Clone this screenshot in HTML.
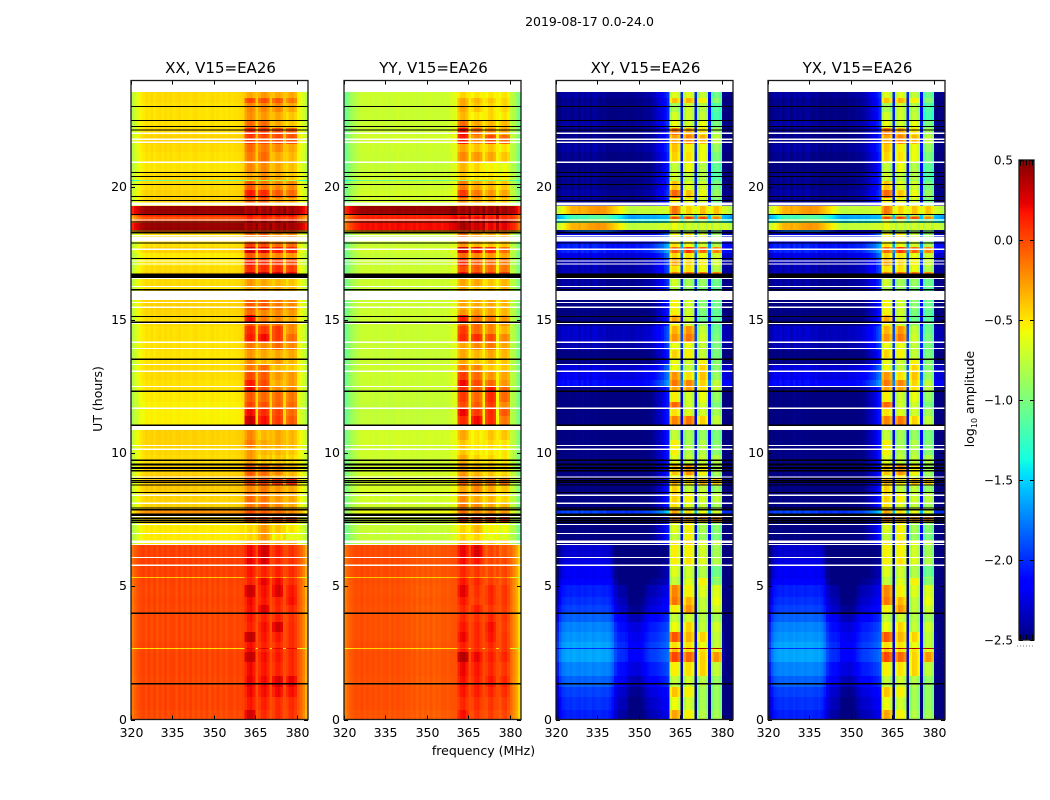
<!DOCTYPE html>
<html lang="en">
<head>
<meta charset="utf-8">
<title>2019-08-17 0.0-24.0 amplitude waterfall</title>
<style>
html,body{margin:0;padding:0;background:#fff}
svg{display:block}
text{font-family:"DejaVu Sans","Liberation Sans",sans-serif;fill:#000}
</style>
</head>
<body>
<svg id="figure" xmlns="http://www.w3.org/2000/svg" width="1050" height="800" viewBox="0 0 1050 800">
<rect x="0" y="0" width="1050" height="800" fill="#fff"/>
<text x="589.5" y="26" font-size="12.5" text-anchor="middle">2019-08-17 0.0-24.0</text>
<text x="0" y="0" font-size="12.5" text-anchor="middle" transform="translate(102,399) rotate(-90)">UT (hours)</text>
<text x="483.5" y="755" font-size="12.5" text-anchor="middle">frequency (MHz)</text>
<text x="0" y="0" font-size="12.5" text-anchor="middle" transform="translate(974,399) rotate(-90)">log<tspan font-size="8" dy="3">10</tspan><tspan dy="-3"> amplitude</tspan></text>
<g id="panels"></g>
<g id="colorbar"></g>
</svg>
<script>
/* ---------- chart data ---------- */
const polarizationTitles = ["XX, V15=EA26","YY, V15=EA26","XY, V15=EA26","YX, V15=EA26"];
const xTickMHz = [320,335,350,365,380];
const yTickHours = [0,5,10,15,20];
const colorbarTicks = [0.5,0,-0.5,-1,-1.5,-2,-2.5];
const colorbarTickLabels = ["0.5","0.0","\u22120.5","\u22121.0","\u22121.5","\u22122.0","\u22122.5"];

/* top hour of each time row (rows run down to hour 0) */
const rowTopHour = [23.57,23.34,23.15,22.82,22.48,22.21,21.95,21.62,21.31,20.94,20.56,20.26,20.23,19.89,19.59,19.40,
19.29,18.98,18.90,18.79,18.65,18.38,
18.28,17.90,17.75,17.52,17.33,17.03,16.80,16.58,16.24,15.76,15.38,15.19,14.93,14.78,14.48,14.18,13.88,13.58,13.31,13.05,12.75,12.49,12.30,11.92,11.70,11.40,11.06,
10.87,10.50,10.23,9.93,9.56,9.18,9.03,8.81,8.55,8.17,7.87,7.72,7.38,7.00,6.74,
6.59,6.10,5.80,5.35,5.31,5.05,4.60,4.30,4.00,3.66,3.28,2.91,2.68,2.65,2.53,2.16,1.63,1.22,0.85,0.36];
/* which spectrum each row uses: 0 quiet, 1 early hours, 2 bright interval */
const rowEra = [0,0,0,0,0,0,0,0,0,0,0,0,0,0,0,0,
2,2,2,2,2,2,
0,0,0,0,0,0,0,0,0,0,0,0,0,0,0,0,0,0,0,0,0,0,0,0,0,0,0,
0,0,0,0,0,0,0,0,0,0,0,0,0,0,0,
1,1,1,1,1,1,1,1,1,1,1,1,1,1,1,1,1,1,1,1];

/* channels: 1 MHz starting at 320 */
const channelMHz = [320,321,322,323,324,325,326,327,328,329,330,331,332,333,334,335,336,337,338,339,340,341,342,343,344,345,346,347,348,349,350,351,352,353,354,355,356,357,358,359,360,361,362,363,364,365,366,367,368,369,370,371,372,373,374,375,376,377,378,379,380,381,382,383];
/* first channel of each of the four interference-band stripes */
const stripeStartMHz = [361,366,371,376];

/* background level of each row, log10 amplitude */
const bgXX = [-.48,-.48,-.5,-.5,-.5,-.48,-.45,-.48,-.5,-.51,-.48,-1.1,-.48,-.45,-.45,-.48,
.42,.1,-.05,.05,.42,-.1,
-.48,-.5,-.45,-.53,-.51,-.48,-.45,-.48,-.51,-.45,-.46,-.48,-.48,-.5,-.5,-.5,-.51,-.5,-.48,-.48,-.5,-.5,-.53,-.55,-.55,-.55,-.48,
-.45,-.45,-.47,-.48,-.45,-.43,-.43,-.43,-.45,-.45,-.25,-.45,-.53,-.53,-.53,
.02,.02,.02,-.42,.01,0,.01,0,0,0,0,.01,-.5,0,.01,.01,0,.01,.01,-.01];
const bgYY = [-.72,-.72,-.73,-.73,-.73,-.72,-.7,-.72,-.73,-.74,-.72,-1.1,-.72,-.7,-.7,-.72,
.42,.1,.12,.1,.18,-.2,
-.72,-.73,-.7,-.74,-.73,-.72,-.7,-.72,-.74,-.72,-.72,-.72,-.72,-.73,-.73,-.73,-.74,-.73,-.72,-.72,-.73,-.73,-.74,-.75,-.75,-.75,-.72,
-.7,-.7,-.71,-.72,-.7,-.68,-.68,-.68,-.7,-.7,-.6,-.7,-.74,-.74,-.72,
-.04,-.04,-.04,-.45,-.05,-.06,-.05,-.06,-.06,-.06,-.06,-.05,-.5,-.06,-.05,-.05,-.06,-.05,-.05,-.07];
const bgXY = [-2.47,-2.52,-2.52,-2.52,-2.47,-2.52,-2.52,-2.47,-2.52,-2.57,-2.52,-2.52,-2.52,-2.47,-2.52,-2.52,
-.65,-1.5,-1.55,-1.3,-.65,-2.1,
-2.3,-2.1,-2.1,-2.3,-2.42,-2.42,-2.42,-2.47,-2.47,-2.57,-2.57,-2.57,-2.52,-2.37,-2.37,-2.42,-2.57,-2.57,-2.32,-2.27,-2.17,-2.52,-2.57,-2.57,-2.57,-2.57,-2.57,
-2.57,-2.57,-2.57,-2.57,-2.57,-2.57,-2.57,-2.57,-2.57,-2.57,-2.0,-2.52,-2.57,-2.57,-2.57,
-2.3,-2.25,-2.2,-2.25,-2.15,-2.05,-2.0,-1.95,-1.85,-1.75,-1.7,-1.65,-2.0,-1.65,-1.65,-1.75,-1.85,-1.95,-2.0,-2.05];
const bgYX = bgXY;

/* stripe levels per row: four interference stripes */
const rfiXX = [[-.3,-.25,-.3,-.3],[0,-.02,-.05,-.15],[-.2,-.2,-.2,-.3],[-.22,-.25,-.3,-.4],[-.1,-.1,-.3,-.4],[.1,.05,0,-.05],[.05,0,0,-.02],[-.1,-.15,-.2,-.3],[-.15,-.1,-.3,-.35],[-.2,-.2,-.3,-.38],[-.3,-.2,-.3,-.4],[-.8,-.8,-.8,-.8],[-.05,-.15,-.2,-.2],[.15,.1,-.05,-.1],[-.05,-.05,-.25,-.3],[-.1,-.1,-.3,-.35],
[.42,.42,.42,.42],[.2,.2,.2,.2],[.1,.1,.05,.05],[.2,.2,.2,.2],[.42,.42,.42,.42],[0,0,0,0],
[-.1,-.05,-.2,-.2],[.05,0,-.1,-.1],[.3,.25,.15,.1],[-.05,-.1,-.2,-.25],[.15,.1,.05,0],[.1,.1,.1,.05],[.3,.3,.25,.2],[-.25,-.3,-.35,-.4],[-.3,-.3,-.3,-.35],[-.05,-.05,-.15,-.2],[-.1,-.2,-.2,-.25],[.2,-.15,-.2,-.3],[-.05,-.1,-.1,-.2],[.1,.05,.05,-.2],[.15,.2,.05,-.1],[-.15,-.2,-.1,-.2],[-.25,-.3,-.3,-.3],[-.2,-.35,-.25,-.35],[-.15,-.1,-.35,-.4],[0,-.05,-.25,-.25],[.15,0,-.3,-.25],[.2,0,-.2,-.2],[-.05,-.1,-.1,-.15],[.02,-.02,-.08,-.1],[.2,.1,.02,-.1],[.32,.18,.05,-.05],[.1,.1,0,0],
[-.2,-.35,-.3,-.35],[-.15,-.3,-.3,-.35],[-.25,-.35,-.35,-.4],[-.25,-.4,-.4,-.45],[-.05,-.1,-.2,-.35],[-.1,-.15,-.3,-.35],[.05,.05,.08,.1],[-.2,-.15,-.25,-.3],[-.1,-.15,-.25,-.3],[-.15,-.1,-.2,-.3],[0,-.05,-.1,-.2],[.05,.05,.05,.05],[-.45,-.25,-.4,-.5],[-.45,-.25,-.5,-.6],[-.3,-.2,-.3,-.3],
[.2,.28,.13,.08],[.23,.26,.1,.08],[.16,.13,.13,.1],[.05,-.15,-.15,-.15],[.13,.23,.2,.1],[.3,.18,.26,.16],[.2,.16,.13,.18],[.18,.26,.11,.11],[.16,.13,.13,.08],[.13,.18,.28,.1],[.33,.16,.16,.1],[.18,.13,.11,.1],[.25,.25,.25,.25],[.2,.13,.13,.11],[.33,.18,.16,.11],[.2,.16,.13,.11],[.23,.2,.26,.23],[.2,.18,.2,.18],[.16,.13,.1,.1],[.28,.1,.1,.08]];
const rfiYY = [[-.45,-.5,-.5,-.5],[-.3,-.35,-.4,-.45],[-.3,-.4,-.45,-.45],[-.35,-.5,-.45,-.5],[-.1,-.3,-.35,-.35],[.2,-.1,-.2,-.3],[.15,-.2,0,-.1],[-.3,-.4,-.4,-.5],[-.2,-.25,-.3,-.4],[-.35,-.45,-.55,-.6],[-.4,-.5,-.5,-.55],[-1,-1,-1,-1],[-.15,-.3,-.35,-.4],[.05,-.15,-.25,-.3],[-.2,-.3,-.35,-.4],[-.25,-.35,-.4,-.45],
[.42,.42,.42,.42],[.1,.1,.1,.1],[.25,.2,.15,.1],[.2,.2,.2,.2],[.4,.3,.22,.25],[-.1,-.15,-.2,-.2],
[-.1,-.25,-.3,-.3],[-.25,-.35,-.4,-.4],[.3,.2,.1,-.1],[-.1,-.2,-.25,-.3],[.1,-.05,-.1,-.15],[0,-.05,-.1,-.15],[.2,.1,.05,.05],[-.3,-.3,-.4,-.35],[-.3,-.4,-.4,-.35],[-.3,-.3,-.3,-.35],[-.25,-.25,-.3,-.35],[.15,-.1,-.15,-.25],[-.1,-.1,-.2,-.25],[.05,-.1,-.2,-.35],[.1,.1,0,-.2],[-.3,-.2,-.15,-.3],[-.3,-.35,-.3,-.35],[-.3,-.4,-.35,-.4],[-.15,-.2,-.4,-.4],[.05,-.1,-.25,-.3],[.2,0,-.1,-.25],[.1,-.05,.15,-.1],[.05,-.1,.1,-.1],[0,-.05,.05,-.2],[.22,.05,.1,-.05],[.1,.2,.1,-.15],[.05,0,-.1,-.1],
[-.3,-.5,-.4,-.4],[-.4,-.5,-.45,-.5],[-.4,-.5,-.5,-.5],[-.3,-.45,-.45,-.5],[-.25,-.35,-.4,-.45],[-.2,-.3,-.4,-.4],[-.05,-.1,-.1,-.1],[-.3,-.2,-.3,-.4],[-.2,-.3,-.35,-.45],[-.15,-.2,-.3,-.35],[-.1,-.2,-.2,-.25],[.1,.1,.1,.1],[-.45,-.35,-.55,-.6],[-.45,-.45,-.6,-.65],[-.3,-.3,-.4,-.4],
[.21,.26,.01,-.04],[.18,.16,.01,.01],[.11,.06,.01,.01],[-.15,-.25,-.25,-.25],[.16,.11,.04,.01],[.24,.08,.11,.06],[.16,.06,.11,.06],[.11,.14,.06,.04],[.11,.08,.11,.06],[.16,.11,.18,.04],[.21,.11,.16,.06],[.14,.11,.11,.06],[.05,.05,.05,.05],[.16,.11,.09,.06],[.36,.21,.14,.11],[.21,.16,.11,.06],[.18,.14,.16,.11],[.16,.14,.11,.08],[.11,.09,.06,.04],[.18,.06,.04,.01]];
const rfiXY = [[-.65,-.65,-.75,-1.05],[-.4,-.35,-.55,-.95],[-.85,-.7,-.8,-1.15],[-.7,-.7,-.75,-1.2],[-.6,-.7,-.6,-1],[-.15,-.3,-.5,-.85],[-.3,-.2,-.35,-.75],[-.4,-.55,-.6,-.9],[-.45,-.5,-.6,-1],[-.75,-.6,-.8,-1.1],[-.7,-.75,-.8,-1.15],[-.8,-.8,-.9,-1.1],[-.4,-.65,-.7,-1],[-.1,-.4,-.6,-.9],[-.55,-.6,-.7,-1],[-.6,-.6,-.7,-1],
[-.15,-.45,-.4,-.4],[-.7,-.8,-.8,-.8],[0,.02,0,-.2],[-.7,-.8,-.9,-1],[-.6,-.7,-.7,-.7],[-.8,-.9,-.9,-1],
[-.55,-.5,-.7,-.9],[-.5,-.6,-.7,-.8],[-.1,.05,-.1,-.2],[-.45,-.5,-.6,-.7],[-.3,-.45,-.55,-.7],[-.5,-.5,-.6,-.8],[-.2,-.1,-.15,-.2],[-.7,-.85,-.9,-1.05],[-.8,-.9,-1,-1.1],[-.55,-.7,-.95,-1.05],[-.55,-.7,-1,-1.1],[-.3,-.7,-1.05,-1.1],[-.55,-.7,-.9,-1.1],[-.35,-.25,-.75,-1.05],[-.25,-.15,-.7,-1],[-.6,-.6,-.75,-1],[-.45,-.55,-.75,-1],[-.6,-.7,-.55,-.95],[-.6,-.75,-.45,-.95],[-.25,-.5,-.4,-.9],[-.15,-.2,-.45,-.75],[-.3,-.3,-.5,-.75],[-.55,-.7,-.6,-.9],[-.1,-.7,-.7,-1],[-.5,-.65,-.7,-.85],[-.2,-.15,-.45,-.75],[-.6,-.7,-.8,-.9],
[-.75,-.85,-.9,-1],[-.55,-.85,-.8,-.95],[-.55,-.8,-.8,-.95],[-.65,-.75,-.75,-.8],[-.4,-.25,-.55,-.85],[-.6,-.5,-.7,-.9],[-.35,-.5,-.35,-.4],[-.45,-.75,-.75,-.9],[-.45,-.55,-.7,-.75],[-.5,-.65,-.75,-.85],[-.3,-.5,-.6,-.7],[-.2,-.3,-.3,-.2],[-.65,-.55,-.85,-.95],[-.75,-.55,-.9,-1],[-.5,-.45,-.6,-.7],
[-.55,-.55,-.7,-.85],[-.55,-.5,-.65,-.8],[-.65,-.7,-.8,-1.05],[-.8,-.8,-.8,-.8],[-.75,-.65,-.55,-.95],[-.2,-.55,-.65,-.65],[-.15,-.35,-.75,-.6],[-.55,-.25,-.75,-.7],[-.75,-.7,-.8,-.85],[-.6,-.45,-.75,-.7],[-.05,-.35,-.45,-.75],[-.5,-.5,-.6,-.75],[.4,.4,.4,.4],[-.4,-.5,-.5,-.6],[0,-.1,-.45,-.25],[-.55,-.5,-.45,-.75],[-.75,-.7,-.8,-.9],[-.4,-.55,-.85,-.9],[-.6,-.7,-.85,-.9],[-.3,-.55,-.8,-.85]];
const rfiYX = rfiXY;

/* spectral offsets from a row's background level (one per channel) */
const spectrumQuietXX = [-.3,-.2,-.12,-.06,-.02,.02,0,.03,-.01,.02,.03,0,.03,.01,.03,0,.02,.03,0,.02,.02,0,.02,.03,0,.01,.02,-.01,.01,.03,0,.02,-.01,.01,-.01,.02,0,.01,.02,.03,.05,0,0,0,0,.08,0,0,0,0,.1,0,0,0,0,.08,0,0,0,0,-.05,-.12,-.2,-.3];
const spectrumEarlyXX = [-.15,-.08,-.03,0,.02,-.02,.03,-.02,.03,-.03,.02,-.02,.03,-.02,.02,.02,-.03,.03,-.02,.03,-.02,.03,-.02,.02,-.02,.02,-.02,.03,-.03,.02,-.02,.03,-.02,.02,-.02,.02,.02,-.02,.02,.0,.02,0,0,0,0,-.02,0,0,0,0,-.02,0,0,0,0,-.02,0,0,0,0,-.03,-.1,-.2,-.35];
const spectrumQuietYY = [-.32,-.25,-.16,-.1,-.05,-.02,.01,0,.02,0,.02,-.01,.01,.03,0,.02,-.01,.02,0,.03,.02,0,.03,.01,0,.02,-.01,.02,0,.01,.02,.03,0,.01,.02,-.01,.02,.02,.05,.08,.1,0,0,0,0,.2,0,0,0,0,.2,0,0,0,0,.18,0,0,0,0,-.03,-.08,-.18,-.3];
const spectrumEarlyYY = [-.1,-.04,0,.03,.05,.03,.06,.02,.05,.02,.05,.02,.05,.02,.04,.05,.01,.05,.02,.05,.02,.04,.01,.03,0,.02,-.02,.02,-.02,.01,-.02,.02,-.02,.01,-.01,.02,.02,0,.02,.03,.03,0,0,0,0,.05,0,0,0,0,.05,0,0,0,0,.05,0,0,0,0,-.05,-.15,-.25,-.4];
const spectrumQuietCross = [0,.02,.08,.05,.1,.03,.08,.1,.02,.12,.05,.1,.02,.08,.1,.05,.03,.08,0,.02,0,.03,0,.02,.05,0,.03,0,.02,.05,.02,.05,.08,.06,.1,.15,.2,.25,.3,.4,.5,0,0,0,0,.45,0,0,0,0,.45,0,0,0,0,.4,0,0,0,0,.02,0,0,0];
const spectrumEarlyCross = [-.3,-.12,-.03,0,.02,0,.03,.01,0,.03,0,.02,.03,0,.02,.03,.01,0,.02,-.02,-.1,-.25,-.33,-.35,-.35,-.38,-.48,-.5,-.5,-.52,-.5,-.45,-.38,-.33,-.3,-.3,-.28,-.25,-.22,-.2,-.15,0,0,0,0,-.55,0,0,0,0,-.55,0,0,0,0,-.55,0,0,0,0,-.7,-.85,-.85,-.85];
const spectrumBrightCross = [-.08,-.02,.05,.15,.22,.3,.32,.3,.35,.3,.32,.35,.38,.38,.4,.42,.38,.4,.35,.3,.25,.2,.15,.1,.02,-.05,-.1,-.12,-.12,-.1,-.1,-.08,-.1,-.1,-.08,-.1,-.08,-.05,-.05,-.05,-.02,0,0,0,0,0,0,0,0,0,0,0,0,0,0,0,0,0,0,0,-.02,-.05,-.1,-.15];

/* level across the four channels of a stripe, relative to the stripe level */
const stripeShapeXX = [-.08,0,.02,-.05];
const stripeShapeYY = [-.08,0,.02,-.06];
const stripeShapeXY = [-.15,.02,.02,-.1];
const stripeShapeYX = [-.14,.02,0,-.12];

/* flagged time samples */
const whiteLineHours = [22.02,21.79,21.68,20.93,18.76,18.17,17.66,17.22,17.11,16.56,16.26,15.66,15.48,14.87,14.17,13.94,13.33,13.08,12.51,11.69,10.29,10.15,9.11,8.42,8.12,7.63,7.32,6.99,6.57,6.09,5.79];
const whiteBandTop = [19.42,18.13,16.10,11.02,6.73];
const whiteBandBottom = [19.30,17.95,15.76,10.87,6.62];
const blackLineHours = [23.02,22.50,22.27,22.14,20.54,20.39,20.09,19.64,19.49,18.97,18.69,18.35,18.28,17.90,17.31,16.14,15.14,14.92,13.53,12.33,11.05,9.74,9.59,9.45,9.34,9.05,8.98,8.91,8.81,8.53,7.94,7.88,7.69,7.54,7.47,7.41,3.99,1.34];
const blackBandTop = [16.76,9.62,9.48,7.74,7.59,1.38];
const blackBandBottom = [16.58,9.54,9.41,7.64,7.51,1.31];

const panelBackgrounds = [bgXX,bgYY,bgXY,bgYX];
const panelStripes = [rfiXX,rfiYY,rfiXY,rfiYX];
const panelSpectra = [
  [spectrumQuietXX,spectrumEarlyXX,spectrumQuietXX],
  [spectrumQuietYY,spectrumEarlyYY,spectrumQuietYY],
  [spectrumQuietCross,spectrumEarlyCross,spectrumBrightCross],
  [spectrumQuietCross,spectrumEarlyCross,spectrumBrightCross]
];
const panelStripeShapes = [stripeShapeXX,stripeShapeYY,stripeShapeXY,stripeShapeYX];

/* ---------- layout ---------- */
const SVGNS = "http://www.w3.org/2000/svg";
const panelLefts = [131,344,556,768];
const plotWidth = 177, plotTop = 80.5, plotBottom = 719.5;
const hourMax = 24, mhzMin = 320, mhzMax = 384;
const valueMin = -2.5, valueMax = 0.5;
const barLeft = 1019, barRight = 1034, barTop = 160, barBottom = 640;

function xScale(left, mhz){ return left + (mhz - mhzMin) * plotWidth / (mhzMax - mhzMin); }
function yScale(hour){ return plotBottom - hour * (plotBottom - plotTop) / hourMax; }
function barScale(v){ return barBottom - (v - valueMin) * (barBottom - barTop) / (valueMax - valueMin); }

function lerp(t, pts){
  if (t <= pts[0][0]) return pts[0][1];
  for (let i = 1; i < pts.length; i++){
    if (t <= pts[i][0]){
      const a = pts[i-1], b = pts[i];
      return a[1] + (b[1]-a[1]) * (t-a[0]) / (b[0]-a[0]);
    }
  }
  return pts[pts.length-1][1];
}
function jet(v){
  const t = Math.max(0, Math.min(1, (v - valueMin) / (valueMax - valueMin)));
  const r = lerp(t, [[0,0],[.35,0],[.66,1],[.89,1],[1,.5]]);
  const g = lerp(t, [[0,0],[.125,0],[.375,1],[.64,1],[.91,0],[1,0]]);
  const b = lerp(t, [[0,.5],[.11,1],[.34,1],[.65,0],[1,0]]);
  return "rgb(" + Math.round(r*255) + "," + Math.round(g*255) + "," + Math.round(b*255) + ")";
}
function stripeOf(mhz){
  for (let s = 0; s < stripeStartMHz.length; s++){
    const o = mhz - stripeStartMHz[s];
    if (o >= 0 && o < 4) return [s, o];
  }
  return null;
}
function makeRect(parent, x, y, w, h, fill){
  const el = document.createElementNS(SVGNS, "rect");
  el.setAttribute("x", x.toFixed(2));
  el.setAttribute("y", y.toFixed(2));
  el.setAttribute("width", w.toFixed(2));
  el.setAttribute("height", h.toFixed(2));
  el.setAttribute("fill", fill);
  parent.appendChild(el);
  return el;
}
function makeLine(parent, x1, y1, x2, y2, stroke, width){
  const el = document.createElementNS(SVGNS, "line");
  el.setAttribute("x1", x1);
  el.setAttribute("y1", y1);
  el.setAttribute("x2", x2);
  el.setAttribute("y2", y2);
  el.setAttribute("stroke", stroke);
  el.setAttribute("stroke-width", width);
  parent.appendChild(el);
  return el;
}
function makeText(parent, x, y, size, anchor, content){
  const el = document.createElementNS(SVGNS, "text");
  el.setAttribute("x", x);
  el.setAttribute("y", y);
  el.setAttribute("font-size", size);
  el.setAttribute("text-anchor", anchor);
  el.textContent = content;
  parent.appendChild(el);
  return el;
}

/* ---------- draw panels ---------- */
const panelsRoot = document.getElementById("panels");
polarizationTitles.forEach(function(title, p){
  const left = panelLefts[p];
  const group = document.createElementNS(SVGNS, "g");
  
  
  panelsRoot.appendChild(group);

  const heat = document.createElementNS(SVGNS, "g");
  
  
  heat.setAttribute("shape-rendering", "crispEdges");
  group.appendChild(heat);

  rowTopHour.forEach(function(topHour, r){
    const bottomHour = r + 1 < rowTopHour.length ? rowTopHour[r+1] : 0;
    const y0 = yScale(topHour), y1 = yScale(bottomHour);
    const spectrum = panelSpectra[p][rowEra[r]];
    channelMHz.forEach(function(mhz, c){
      const st = stripeOf(mhz);
      let value;
      if (st) value = panelStripes[p][r][st[0]] + panelStripeShapes[p][st[1]];
      else value = panelBackgrounds[p][r] + spectrum[c];
      const x0 = xScale(left, mhz), x1 = xScale(left, mhz + 1);
      const cell = makeRect(heat, x0, y0, x1 - x0, y1 - y0, jet(value));
      
      
    });
  });

  const flags = document.createElementNS(SVGNS, "g");
  
  
  flags.setAttribute("shape-rendering", "crispEdges");
  group.appendChild(flags);

  blackLineHours.forEach(function(h){
    const el = makeRect(flags, left, yScale(h) - 0.6, plotWidth, 1.2, "#000");
    
    
  });
  blackBandTop.forEach(function(h, i){
    const el = makeRect(flags, left, yScale(h), plotWidth, yScale(blackBandBottom[i]) - yScale(h), "#000");
    
    
  });
  whiteLineHours.forEach(function(h){
    const el = makeRect(flags, left, yScale(h) - 0.6, plotWidth, 1.2, "#fff");
    
    
  });
  whiteBandTop.forEach(function(h, i){
    const el = makeRect(flags, left, yScale(h), plotWidth, yScale(whiteBandBottom[i]) - yScale(h), "#fff");
    
    
  });

  const ticks = document.createElementNS(SVGNS, "g");
  
  
  group.appendChild(ticks);
  xTickMHz.forEach(function(mhz){
    const x = Math.round(xScale(left, mhz)) + 0.5;
    const t1 = makeLine(ticks, x, plotBottom, x, plotBottom - 4, "#000", 1);
    
    
    const t2 = makeLine(ticks, x, plotTop, x, plotTop + 4, "#000", 1);
    
    
    const label = makeText(ticks, x, 737, 12.5, "middle", String(mhz));
    
    
  });
  yTickHours.forEach(function(h){
    const y = Math.round(yScale(h)) + 0.5;
    const t1 = makeLine(ticks, left, y, left + 4, y, "#000", 1);
    
    
    const t2 = makeLine(ticks, left + plotWidth, y, left + plotWidth - 4, y, "#000", 1);
    
    
    const label = makeText(ticks, left - 4, y + 3.5, 12.5, "end", String(h));
    
    
  });

  const frame = document.createElementNS(SVGNS, "rect");
  frame.setAttribute("x", left);
  frame.setAttribute("y", plotTop);
  frame.setAttribute("width", plotWidth);
  frame.setAttribute("height", plotBottom - plotTop);
  frame.setAttribute("fill", "none");
  frame.setAttribute("stroke", "#1a1a1a");
  frame.setAttribute("stroke-width", "1.3");
  
  
  group.appendChild(frame);

  const titleEl = makeText(group, left + plotWidth / 2 + 1, 73, 15, "middle", title);
  
  
});

/* ---------- colorbar ---------- */
const barRoot = document.getElementById("colorbar");
const barSteps = 240;
const barCells = document.createElementNS(SVGNS, "g");
barCells.setAttribute("shape-rendering", "crispEdges");


barRoot.appendChild(barCells);
for (let i = 0; i < barSteps; i++){
  const vHigh = valueMax - (valueMax - valueMin) * i / barSteps;
  const vLow = valueMax - (valueMax - valueMin) * (i + 1) / barSteps;
  const step = makeRect(barCells, barLeft, barScale(vHigh), barRight - barLeft, barScale(vLow) - barScale(vHigh) + 0.3, jet((vHigh + vLow) / 2));
  
  
}
const barFrame = makeRect(barRoot, barLeft, barTop, barRight - barLeft, barBottom - barTop, "none");
barFrame.setAttribute("stroke", "#1a1a1a");
barFrame.setAttribute("stroke-width", "1.3");


colorbarTicks.forEach(function(v, i){
  const y = Math.round(barScale(v)) + 0.5;
  const t1 = makeLine(barRoot, barLeft, y, barLeft + 4, y, "#000", 1);
  
  
  const t2 = makeLine(barRoot, barRight, y, barRight - 4, y, "#000", 1);
  
  
  const label = makeText(barRoot, barLeft - 6, y + 4, 12, "end", colorbarTickLabels[i]);
  
  
});
const topDash = makeLine(barRoot, barLeft + 1, barTop + 3, barRight - 1, barTop + 3, "#000", 5);
topDash.setAttribute("stroke-dasharray", "1 2");


const bottomDash = makeLine(barRoot, barLeft + 1, barBottom - 3, barRight - 1, barBottom - 3, "#000", 5);
bottomDash.setAttribute("stroke-dasharray", "1 2");


const dotted = makeLine(barRoot, 1017, 646, 1035, 646, "#777", 1);
dotted.setAttribute("stroke-dasharray", "1 2");


</script>
</body>
</html>
